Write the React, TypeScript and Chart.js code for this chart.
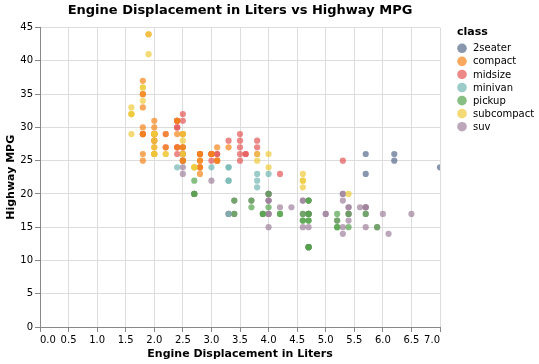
import React, { useEffect, useRef } from 'react';
import { Chart, registerables } from 'chart.js';

Chart.register(...registerables);

// ---- data (mpg: displ vs hwy by class) ----
const CLASSES = ['2seater', 'compact', 'midsize', 'minivan', 'pickup', 'subcompact', 'suv'];

const twoSeaterDispl = [5.7, 5.7, 6.2, 6.2, 7.0];
const twoSeaterHwy = [26, 23, 26, 25, 24];

const compactDispl = [1.8, 1.8, 2.0, 2.0, 2.8, 2.8, 3.1, 1.8, 1.8, 2.0, 2.0, 2.8, 2.8, 3.1, 3.1, 2.4, 2.4, 2.5, 2.5, 2.5, 2.5, 2.2, 2.2, 2.4, 2.4, 3.0, 3.0, 3.3, 1.8, 1.8, 1.8, 1.8, 1.8, 2.0, 2.0, 2.0, 2.0, 2.8, 1.9, 2.0, 2.0, 2.0, 2.0, 2.5, 2.5, 2.8, 2.8];
const compactHwy = [29, 29, 31, 30, 26, 26, 27, 26, 25, 28, 27, 25, 25, 25, 25, 29, 27, 25, 27, 25, 27, 27, 29, 31, 31, 26, 26, 27, 30, 33, 35, 37, 35, 29, 26, 29, 29, 24, 44, 29, 26, 29, 29, 29, 29, 23, 24];

const midsizeDispl = [2.8, 3.1, 4.2, 2.4, 2.4, 3.1, 3.5, 3.6, 2.4, 2.4, 2.4, 2.4, 2.5, 2.5, 3.3, 2.5, 2.5, 3.5, 3.5, 3.0, 3.0, 3.5, 3.1, 3.8, 3.8, 3.8, 5.3, 2.2, 2.2, 2.4, 2.4, 3.0, 3.0, 3.5, 1.8, 1.8, 2.0, 2.0, 2.8, 2.8, 3.6];
const midsizeHwy = [24, 25, 23, 27, 30, 26, 29, 26, 26, 27, 30, 31, 26, 26, 28, 31, 32, 27, 26, 26, 25, 25, 26, 26, 27, 28, 25, 29, 27, 31, 31, 26, 26, 28, 29, 29, 28, 29, 26, 26, 26];

const minivanDispl = [2.4, 3.0, 3.3, 3.3, 3.3, 3.3, 3.3, 3.8, 3.8, 3.8, 4.0];
const minivanHwy = [24, 24, 22, 22, 24, 24, 17, 22, 21, 23, 23];

const pickupDispl = [3.7, 3.7, 3.9, 3.9, 4.7, 4.7, 4.7, 5.2, 5.2, 4.7, 4.7, 4.7, 4.7, 4.7, 4.7, 5.2, 5.2, 5.7, 5.9, 4.2, 4.2, 4.6, 4.6, 4.6, 5.4, 5.4, 2.7, 2.7, 2.7, 3.4, 3.4, 4.0, 4.0];
const pickupHwy = [19, 18, 17, 17, 19, 19, 12, 17, 15, 16, 12, 17, 17, 16, 12, 15, 16, 17, 15, 17, 17, 16, 16, 17, 15, 17, 20, 20, 22, 17, 19, 18, 20];

const subcompactDispl = [3.8, 3.8, 4.0, 4.0, 4.6, 4.6, 4.6, 4.6, 5.4, 1.6, 1.6, 1.6, 1.6, 1.6, 1.8, 1.8, 1.8, 2.0, 2.0, 2.0, 2.0, 2.0, 2.7, 2.7, 2.7, 2.2, 2.2, 2.5, 2.5, 1.9, 1.9, 2.0, 2.0, 2.5, 2.5];
const subcompactHwy = [26, 25, 26, 24, 21, 22, 23, 22, 20, 33, 32, 32, 29, 32, 34, 36, 36, 29, 26, 29, 28, 27, 24, 24, 24, 26, 26, 26, 26, 44, 41, 29, 26, 28, 29];

const suvDispl = [5.3, 5.3, 5.3, 5.7, 6.0, 5.3, 5.3, 5.7, 6.5, 3.9, 4.7, 4.7, 4.7, 5.2, 5.7, 5.9, 4.6, 5.4, 5.4, 4.0, 4.0, 4.0, 4.0, 4.6, 5.0, 3.0, 3.7, 4.0, 4.7, 4.7, 4.7, 5.7, 6.1, 4.0, 4.2, 4.4, 4.6, 5.4, 5.4, 5.4, 4.0, 4.0, 4.6, 5.0, 3.3, 3.3, 4.0, 5.6, 2.5, 2.5, 2.5, 2.5, 2.5, 2.5, 2.7, 2.7, 3.4, 3.4, 4.0, 4.7, 4.7, 5.7];
const suvHwy = [20, 15, 20, 17, 17, 19, 14, 15, 17, 17, 17, 12, 17, 16, 18, 15, 17, 17, 18, 17, 19, 17, 19, 19, 17, 22, 19, 20, 17, 12, 19, 18, 14, 15, 18, 18, 15, 17, 16, 18, 17, 19, 19, 17, 17, 17, 20, 18, 25, 24, 27, 25, 26, 23, 20, 20, 19, 17, 20, 17, 15, 18];

const DISPL = [twoSeaterDispl, compactDispl, midsizeDispl, minivanDispl, pickupDispl, subcompactDispl, suvDispl];
const HWY = [twoSeaterHwy, compactHwy, midsizeHwy, minivanHwy, pickupHwy, subcompactHwy, suvHwy];

const X_TICK_STEP = 0.5;
const Y_TICK_STEP = 5;

// ---- styles ----
const BASE_COLORS = ['#56698c', '#f58518', '#e45756', '#72b7b2', '#54a24b', '#eeca3b', '#9e829b'];
const DRAW_ORDER = [6, 2, 3, 1, 4, 0, 5]; // lower = drawn on top
const FONT = '"DejaVu Sans", sans-serif';

function withAlpha(hex: string, a: number) {
  const r = parseInt(hex.slice(1, 3), 16);
  const g = parseInt(hex.slice(3, 5), 16);
  const b = parseInt(hex.slice(5, 7), 16);
  return `rgba(${r},${g},${b},${a})`;
}

const legendPlugin = {
  id: 'classLegend',
  afterDraw(chart: any) {
    const ctx = chart.ctx;
    const left = chart.chartArea.right + 17;
    ctx.save();
    ctx.textAlign = 'left';
    ctx.textBaseline = 'middle';
    ctx.fillStyle = '#000';
    ctx.font = `bold 11px ${FONT}`;
    ctx.fillText('class', left, 32.5);
    ctx.font = `10px ${FONT}`;
    chart.data.datasets.forEach((ds: any, i: number) => {
      const y = 48.3 + i * 13.07;
      ctx.fillStyle = ds.backgroundColor;
      ctx.beginPath();
      ctx.arc(left + 5, y, 4.8, 0, Math.PI * 2);
      ctx.fill();
      ctx.fillStyle = '#000';
      ctx.fillText(ds.label, left + 16, y + 0.5);
    });
    ctx.restore();
  },
};

export default function App() {
  const ref = useRef<HTMLCanvasElement | null>(null);

  useEffect(() => {
    if (!ref.current) return;
    Chart.defaults.font.family = FONT;
    const datasets = CLASSES.map((c, i) => ({
      label: c,
      data: DISPL[i].map((x, j) => ({ x, y: HWY[i][j] })),
      backgroundColor: withAlpha(BASE_COLORS[i], 0.7),
      borderColor: 'rgba(0,0,0,0)',
      pointRadius: 3.1,
      pointBorderWidth: 0,
      pointHoverRadius: 3.1,
      order: DRAW_ORDER[i],
    }));

    const chart = new Chart(ref.current, {
      type: 'scatter',
      data: { datasets },
      plugins: [legendPlugin],
      options: {
        animation: false,
        responsive: false,
        devicePixelRatio: 1,
        layout: { padding: { left: 0, right: 99, top: 0, bottom: 0 } },
        plugins: {
          legend: { display: false },
          tooltip: { enabled: false },
          title: {
            display: true,
            fullSize: false,
            text: 'Engine Displacement in Liters vs Highway MPG',
            color: '#000',
            font: { size: 13, weight: 'bold', family: FONT, lineHeight: 1.2 },
            padding: { top: 3, bottom: 9 },
          },
        },
        scales: {
          x: {
            type: 'linear',
            min: 0,
            max: 7,
            afterFit: (s: any) => { s.height = 37; },
            ticks: {
              stepSize: X_TICK_STEP,
              align: 'inner',
              padding: 2,
              color: '#000',
              maxRotation: 0,
              autoSkip: false,
              font: { size: 10, family: FONT },
              callback: (v: any) => Number(v).toFixed(1),
            },
            grid: { color: '#dddddd', tickColor: '#888888', tickLength: 5, lineWidth: 1 },
            border: { color: '#888888', width: 1 },
            title: {
              display: true,
              text: 'Engine Displacement in Liters',
              color: '#000',
              font: { size: 11, weight: 'bold', family: FONT, lineHeight: 1.2 },
              padding: { top: 0, bottom: 3 },
            },
          },
          y: {
            type: 'linear',
            min: 0,
            max: 45,
            afterFit: (s: any) => { s.width = 40; },
            ticks: {
              stepSize: Y_TICK_STEP,
              padding: 2,
              color: '#000',
              font: { size: 10, family: FONT },
            },
            grid: { color: '#dddddd', tickColor: '#888888', tickLength: 5, lineWidth: 1 },
            border: { color: '#888888', width: 1 },
            title: {
              display: true,
              text: 'Highway MPG',
              color: '#000',
              font: { size: 11, weight: 'bold', family: FONT, lineHeight: 1.2 },
              padding: { top: 5, bottom: 0 },
            },
          },
        },
      },
    } as any);

    return () => chart.destroy();
  }, []);

  return (
    <div style={{ position: 'absolute', left: 0, top: 0, width: 539, height: 364, background: '#fff' }}>
      <canvas ref={ref} width={539} height={364} style={{ display: 'block', width: 539, height: 364 }} />
    </div>
  );
}
